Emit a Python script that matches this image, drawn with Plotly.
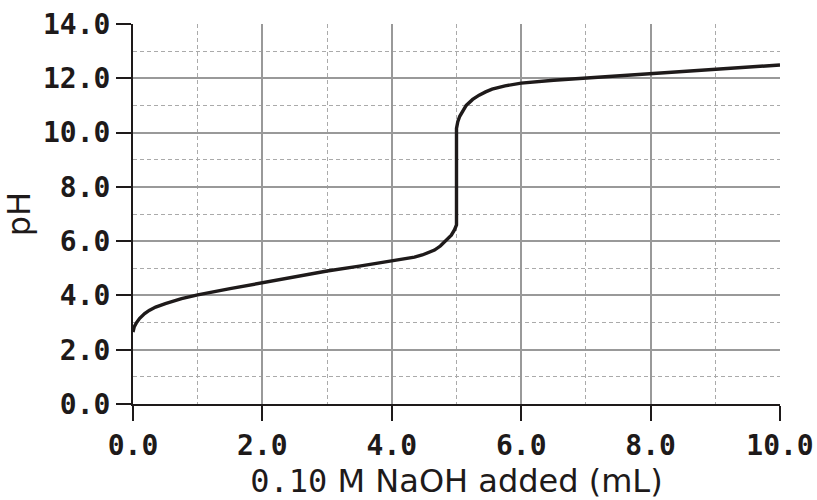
import plotly.graph_objects as go

volume_ml = [0.0, 0.02, 0.05, 0.1, 0.18, 0.25, 0.35, 0.5, 0.75, 1.0, 1.5, 2.0, 2.5, 3.0, 3.5, 4.0,
             4.2, 4.35, 4.47, 4.57, 4.66, 4.75, 4.85, 4.92, 4.97, 5.0, 5.0, 5.02, 5.05, 5.1, 5.15,
             5.25, 5.35, 5.45, 5.55, 5.75, 6.0, 6.5, 7.0, 8.0, 9.0, 10.0]
ph_values = [2.65, 2.85, 2.98, 3.15, 3.33, 3.45, 3.57, 3.7, 3.88, 4.02, 4.25, 4.47, 4.68, 4.9, 5.08, 5.27,
             5.34, 5.41, 5.49, 5.57, 5.67, 5.82, 6.04, 6.22, 6.42, 6.6, 10.15, 10.4, 10.6, 10.82, 11.0,
             11.22, 11.38, 11.5, 11.6, 11.72, 11.82, 11.93, 12.01, 12.18, 12.34, 12.49]

x_title = '<span style="font-family:DejaVu Sans Mono">0.10</span> M NaOH added (mL)'
y_title = "pH"

fig = go.Figure()
fig.add_trace(go.Scatter(x=volume_ml, y=ph_values, mode="lines",
                         line=dict(color="#1e1a1a", width=3.4), showlegend=False,
                         hoverinfo="skip"))

tickfont = dict(family="DejaVu Sans Mono", size=28, color="#1e1a1a", weight="bold")
titlefont = dict(family="DejaVu Sans", size=32, color="#1e1a1a")

common = dict(showgrid=True, gridcolor="#999999", gridwidth=1.5,
              showline=True, linecolor="#1e1a1a", linewidth=2,
              ticks="outside", ticklen=15, tickwidth=2, tickcolor="#1e1a1a",
              tickformat=".1f", zeroline=False, tickfont=tickfont, automargin=False,
              ticklabeloverflow="allow",
              minor=dict(dtick=1, showgrid=True, gridcolor="#aaaaaa", gridwidth=1.2,
                         griddash="4px,3px", ticks=""))

fig.update_xaxes(range=[0, 10], tick0=0, dtick=2,
                 title=dict(text=x_title, font=titlefont, standoff=8), **common)
fig.update_yaxes(range=[0, 14], tick0=0, dtick=2,
                 title=dict(text=y_title, font=titlefont, standoff=6), **common)

fig.update_layout(width=817, height=500, margin=dict(l=133, r=37, t=24, b=96),
                  paper_bgcolor="white", plot_bgcolor="white")

# remove the default page margin so the figure fills the 817x500 window exactly
fig.write_html("out.html", config={"displayModeBar": False},
               post_script="document.body.style.margin='0';document.body.style.overflow='hidden';")
